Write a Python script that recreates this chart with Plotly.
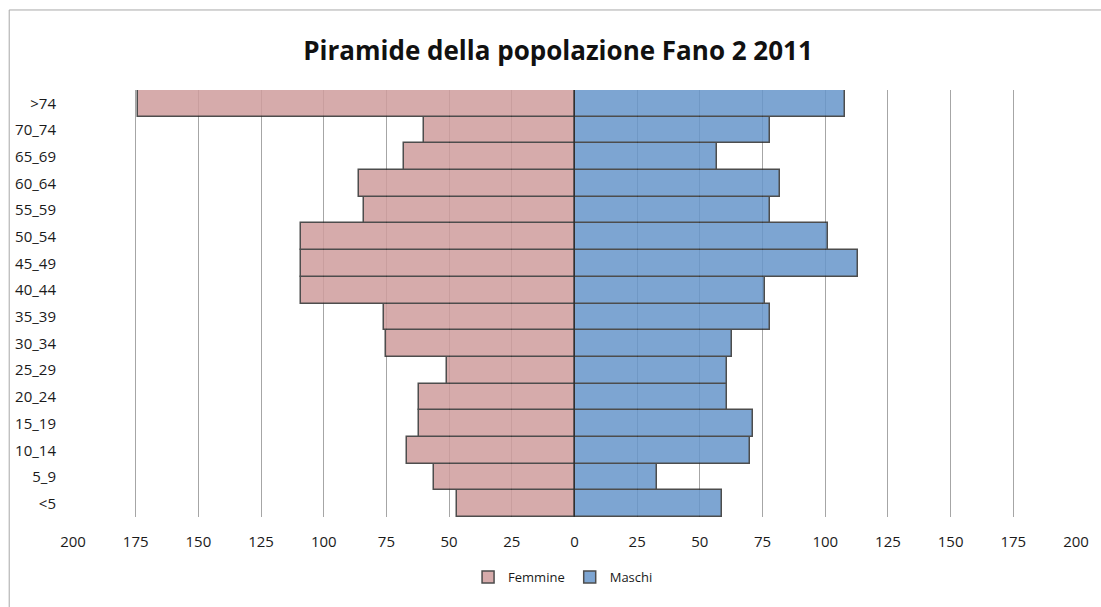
import plotly.graph_objects as go

categories = ["<5", "5_9", "10_14", "15_19", "20_24", "25_29", "30_34", "35_39",
              "40_44", "45_49", "50_54", "55_59", "60_64", "65_69", "70_74", ">74"]
femmine = [47, 56, 67, 62, 62, 51, 75, 76, 109, 109, 109, 84, 86, 68, 60, 174]
maschi = [59, 33, 70, 71, 61, 61, 63, 78, 76, 113, 101, 78, 82, 57, 78, 108]
tick_vals = [-200, -175, -150, -125, -100, -75, -50, -25, 0, 25, 50, 75, 100, 125, 150, 175, 200]
tick_text = [str(abs(v)) for v in tick_vals]

FONT = "Open Sans"
fig = go.Figure()
fig.add_trace(go.Bar(
    y=categories, x=[-v for v in femmine], orientation="h", name="Femmine",
    marker=dict(color="rgb(208,157,157)", line=dict(color="#2e2e2e", width=1.5)),
    opacity=0.85, hoverinfo="skip"))
fig.add_trace(go.Bar(
    y=categories, x=maschi, orientation="h", name="Maschi",
    marker=dict(color="rgb(103,150,203)", line=dict(color="#2e2e2e", width=1.5)),
    opacity=0.85, hoverinfo="skip"))

fig.update_layout(
    width=1101, height=607,
    margin=dict(l=73, r=21, t=90, b=90),
    paper_bgcolor="white", plot_bgcolor="white",
    barmode="overlay", bargap=0,
    font=dict(family=FONT, size=15, color="#1a1a1a"),
    title=dict(text="<b>Piramide della popolazione Fano 2 2011</b>",
               font=dict(family=FONT, size=26, color="#111111"),
               x=0.4836, xref="paper", xanchor="center",
               y=0.916, yref="container", yanchor="middle"),
    legend=dict(orientation="h", x=0.4886, xanchor="center", y=-0.1405, yanchor="middle",
                font=dict(family=FONT, size=13), itemwidth=30, traceorder="normal"),
    xaxis=dict(range=[-200, 200], tickvals=tick_vals, ticktext=tick_text,
               showgrid=True, gridcolor="#a6a6a6", gridwidth=1,
               zeroline=True, zerolinecolor="#a6a6a6", zerolinewidth=1,
               showline=False, ticks="", ticklabelstandoff=14, fixedrange=True),
    yaxis=dict(categoryorder="array", categoryarray=categories, range=[-0.5, 15.5],
               showgrid=False, zeroline=False, showline=False, ticks="",
               ticklabelstandoff=16, fixedrange=True),
    shapes=[dict(type="rect", xref="paper", yref="paper",
                 x0=-0.0636, x1=1.05, y0=-0.4, y1=1.1874,
                 line=dict(color="#a8a8a8", width=1), fillcolor="rgba(0,0,0,0)", layer="below")],
)

fig.write_html("out.html")
